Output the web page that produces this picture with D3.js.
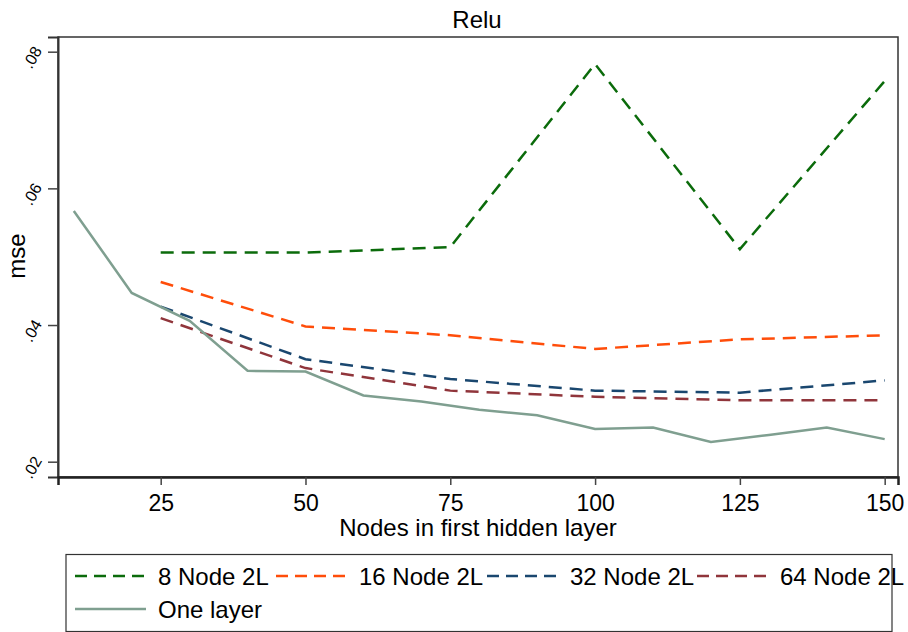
<!DOCTYPE html>
<html>
<head>
<meta charset="utf-8">
<script src="https://cdn.jsdelivr.net/npm/d3@7"></script>
<style>
  body { margin: 0; background: #fff; }
  svg { display: block; font-family: "Liberation Sans", Arial, sans-serif; }
</style>
</head>
<body>
<svg id="chart" width="908" height="632"></svg>
<script>
// Data
const dashX = [25, 50, 75, 100, 125, 150];
const node8 = [0.0506, 0.0506, 0.0514, 0.0782, 0.0511, 0.0757];
const node16 = [0.0463, 0.0398, 0.0385, 0.0365, 0.0379, 0.0385];
const node32 = [0.0427, 0.0350, 0.0321, 0.0304, 0.0301, 0.0319];
const node64 = [0.0410, 0.0337, 0.0304, 0.0295, 0.0290, 0.0290];

const oneX = [10, 20, 30, 40, 50, 60, 70, 80, 90, 100, 110, 120, 130, 140, 150];
const oneLayer = [0.0567, 0.0447, 0.0406, 0.0333, 0.0332, 0.0297, 0.0288, 0.0276,
                  0.0268, 0.0248, 0.0250, 0.0229, 0.0239, 0.0250, 0.0233];

const xTicks = [25, 50, 75, 100, 125, 150];
const yTicks = [0.02, 0.04, 0.06, 0.08];

const seriesNames = ["8 Node 2L", "16 Node 2L", "32 Node 2L", "64 Node 2L", "One layer"];
const seriesColors = ["#0b6b0b", "#ff4d0a", "#1a476f", "#90353b", "#7f9f90"];

const series = [
  { name: seriesNames[0], xs: dashX, ys: node8, color: seriesColors[0], dash: true },
  { name: seriesNames[1], xs: dashX, ys: node16, color: seriesColors[1], dash: true },
  { name: seriesNames[2], xs: dashX, ys: node32, color: seriesColors[2], dash: true },
  { name: seriesNames[3], xs: dashX, ys: node64, color: seriesColors[3], dash: true },
  { name: seriesNames[4], xs: oneX, ys: oneLayer, color: seriesColors[4], dash: false }
];

const svg = d3.select("#chart");
const plot = { left: 58, right: 898, top: 37, bottom: 477 };

const x = d3.scaleLinear().domain([7.27, 152.3]).range([plot.left, plot.right]);
const y = d3.scaleLinear().domain([0.01776, 0.08215]).range([plot.bottom, plot.top]);

// plot region frame
svg.append("rect")
  .attr("x", plot.left).attr("y", plot.top)
  .attr("width", plot.right - plot.left).attr("height", plot.bottom - plot.top)
  .attr("fill", "none").attr("stroke", "#333").attr("stroke-width", 1.5);

// y axis
const yAxis = svg.append("g")
  .attr("transform", `translate(${plot.left},0)`)
  .call(d3.axisLeft(y).tickValues(yTicks).tickSize(10)
    .tickFormat(d => d.toFixed(2).replace(/^0/, "")));
yAxis.select(".domain").attr("stroke", "#333").attr("stroke-width", 2);
yAxis.selectAll(".tick line").attr("stroke", "#444").attr("stroke-width", 1.5);
yAxis.selectAll(".tick text")
  .attr("x", 0).attr("dy", 0)
  .attr("font-size", 16).attr("fill", "#000")
  .attr("text-anchor", "middle")
  .attr("transform", "translate(-21,8) rotate(-60)");

// x axis
const xAxis = svg.append("g")
  .attr("transform", `translate(0,${plot.bottom})`)
  .call(d3.axisBottom(x).tickValues(xTicks).tickSize(8));
xAxis.select(".domain").attr("stroke", "#222").attr("stroke-width", 2.5);
xAxis.selectAll(".tick line").attr("stroke", "#444").attr("stroke-width", 1.5);
xAxis.selectAll(".tick text")
  .attr("y", 34).attr("dy", 0)
  .attr("font-size", 23).attr("fill", "#000");

// titles
svg.append("text")
  .attr("x", 477).attr("y", 28)
  .attr("text-anchor", "middle").attr("font-size", 24)
  .text("Relu");

svg.append("text")
  .attr("x", 478).attr("y", 536)
  .attr("text-anchor", "middle").attr("font-size", 24)
  .text("Nodes in first hidden layer");

svg.append("text")
  .attr("transform", "translate(25,256) rotate(-90)")
  .attr("text-anchor", "middle").attr("font-size", 24)
  .text("mse");

// lines
const line = d3.line().x(d => x(d[0])).y(d => y(d[1]));
series.forEach(s => {
  svg.append("path")
    .datum(s.xs.map((v, i) => [v, s.ys[i]]))
    .attr("d", line)
    .attr("fill", "none")
    .attr("stroke", s.color)
    .attr("stroke-width", 2.5)
    .attr("stroke-dasharray", s.dash ? "13,8" : null);
});

// legend
svg.append("rect")
  .attr("x", 66).attr("y", 554.5)
  .attr("width", 826).attr("height", 77)
  .attr("fill", "none").attr("stroke", "#333").attr("stroke-width", 1.2);

const legendCols = [75, 276, 487, 697];
series.forEach((s, i) => {
  const lx = legendCols[i % 4];
  const ly = 576 + Math.floor(i / 4) * 33;
  svg.append("line")
    .attr("x1", lx).attr("x2", lx + 71)
    .attr("y1", ly).attr("y2", ly)
    .attr("stroke", s.color).attr("stroke-width", 2.5)
    .attr("stroke-dasharray", s.dash ? "12,7" : null);
  svg.append("text")
    .attr("x", lx + 83).attr("y", ly + 9)
    .attr("font-size", 24)
    .text(s.name);
});
</script>
</body>
</html>
